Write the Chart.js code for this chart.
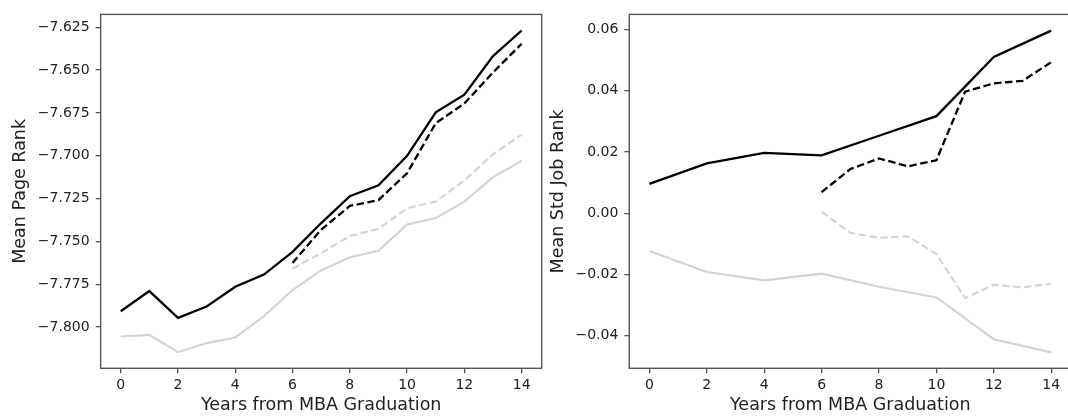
<!DOCTYPE html>
<html>
<head>
<meta charset="utf-8">
<script src="https://cdn.jsdelivr.net/npm/chart.js@4"></script>
<style>
  html, body { margin: 0; padding: 0; background: #fff; overflow: hidden; }
  body { width: 1068px; height: 419px; position: relative; }
  .box { position: absolute; top: 0; height: 419px; }
</style>
</head>
<body>
<div class="box" style="left:0;width:545px"><canvas id="pageRank" width="545" height="419"></canvas></div>
<div class="box" style="left:545px;width:600px"><canvas id="jobRank" width="600" height="419"></canvas></div>
<script>
// ---- data ----
var yearsAll  = [0, 1, 2, 3, 4, 5, 6, 7, 8, 9, 10, 11, 12, 13, 14];
var yearsEven = [0, 2, 4, 6, 8, 10, 12, 14];
var yearsLate = [6, 7, 8, 9, 10, 11, 12, 13, 14];

// left panel: Mean Page Rank
var pageBlackSolid = [-7.7908, -7.7790, -7.7947, -7.7880, -7.7765, -7.7694, -7.7561, -7.7393,
                      -7.7236, -7.7173, -7.7001, -7.6747, -7.6644, -7.6418, -7.6269];
var pageGraySolid  = [-7.8055, -7.8046, -7.8147, -7.8094, -7.8061, -7.7937, -7.7784, -7.7670,
                      -7.7593, -7.7555, -7.7402, -7.7364, -7.7268, -7.7125, -7.7030];
var pageBlackDash  = [-7.7626, -7.7431, -7.7293, -7.7259, -7.7102, -7.6810, -7.6695, -7.6514, -7.6346];
var pageGrayDash   = [-7.7660, -7.7568, -7.7469, -7.7427, -7.7307, -7.7268, -7.7144, -7.6991, -7.6877];

// right panel: Mean Std Job Rank
var jobBlackSolid = [0.0096, 0.0163, 0.0197, 0.0189, 0.0253, 0.0317, 0.0510, 0.0596];
var jobGraySolid  = [-0.0123, -0.0192, -0.0219, -0.0197, -0.0240, -0.0275, -0.0411, -0.0454];
var jobBlackDash  = [0.0069, 0.0144, 0.0179, 0.0153, 0.0173, 0.0397, 0.0424, 0.0432, 0.0493];
var jobGrayDash   = [0.0005, -0.0064, -0.0080, -0.0075, -0.0133, -0.0277, -0.0233, -0.0242, -0.0229];

var xTitle = 'Years from MBA Graduation';

var FONT  = "'DejaVu Sans', sans-serif";
var INK   = '#222222';
var AXIS  = '#555555';
var BLACK = '#000000';
var LIGHT = '#d3d3d3';

function pts(xs, ys) {
  return xs.map(function (x, i) { return { x: x, y: ys[i] }; });
}

function line(xs, ys, color, dashed) {
  return {
    data:        pts(xs, ys),
    borderColor: color,
    borderWidth: color === BLACK ? 2.3 : 2.1,
    borderDash:  dashed ? [7.5, 3.5] : [],
    pointRadius: 0,
    tension:     0,
    fill:        false
  };
}

function minusSign(s) { return s.replace('-', '\u2212'); }

// full box round the plot area, like a matplotlib axes frame
var framePlugin = {
  id: 'frame',
  afterDraw: function (chart) {
    var a = chart.chartArea, c = chart.ctx;
    c.save();
    c.strokeStyle = AXIS;
    c.lineWidth   = 1.4;
    c.strokeRect(a.left, a.top, a.right - a.left, a.bottom - a.top);
    c.restore();
  }
};

function makeChart(id, cfg) {
  return new Chart(document.getElementById(id), {
    type: 'line',
    plugins: [framePlugin],
    data: { datasets: cfg.datasets },
    options: {
      responsive: false,
      animation:  false,
      devicePixelRatio: 1,
      layout: { padding: cfg.padding },
      plugins: { legend: { display: false }, tooltip: { enabled: false } },
      scales: {
        x: {
          type: 'linear', min: -0.7, max: 14.7,
          afterFit: function (s) { s.height = 50.7; },
          ticks: {
            stepSize: 2, includeBounds: false, color: INK, padding: 4,
            font: { family: FONT, size: 14 }
          },
          grid:   { drawOnChartArea: false, tickLength: 5, color: AXIS, lineWidth: 1.3 },
          border: { display: false },
          title:  {
            display: true, text: xTitle, color: INK,
            font: { family: FONT, size: 17.5 }, padding: { top: 0, bottom: 3.5 }
          }
        },
        y: {
          min: cfg.yMin, max: cfg.yMax,
          afterFit: function (s) { s.width = cfg.yWidth; },
          ticks: {
            stepSize: cfg.yStep, includeBounds: false, color: INK, padding: 6,
            font: { family: FONT, size: 14 },
            callback: function (v) { return minusSign(Number(v).toFixed(cfg.yDigits)); }
          },
          grid:   { drawOnChartArea: false, tickLength: 5, color: AXIS, lineWidth: 1.3 },
          border: { display: false },
          title:  {
            display: true, text: cfg.yTitle, color: INK,
            font: { family: FONT, size: 17.5 }, padding: { top: cfg.yTitlePad, bottom: 0 }
          }
        }
      }
    }
  });
}

makeChart('pageRank', {
  datasets: [
    line(yearsAll,  pageBlackSolid, BLACK, false),
    line(yearsAll,  pageGraySolid,  LIGHT, false),
    line(yearsLate, pageBlackDash,  BLACK, true),
    line(yearsLate, pageGrayDash,   LIGHT, true)
  ],
  padding: { top: 7.7, right: 3.3, bottom: 0, left: 0 },
  yMin: -7.8241, yMax: -7.6175, yStep: 0.025, yDigits: 3,
  yWidth: 100.65, yTitle: 'Mean Page Rank', yTitlePad: 9.5
});

makeChart('jobRank', {
  datasets: [
    line(yearsEven, jobBlackSolid, BLACK, false),
    line(yearsEven, jobGraySolid,  LIGHT, false),
    line(yearsLate, jobBlackDash,  BLACK, true),
    line(yearsLate, jobGrayDash,   LIGHT, true)
  ],
  padding: { top: 7.7, right: 73.7, bottom: 0, left: 0 },
  yMin: -0.0506, yMax: 0.0649, yStep: 0.02, yDigits: 2,
  yWidth: 84.3, yTitle: 'Mean Std Job Rank', yTitlePad: 2.5
});
</script>
</body>
</html>
